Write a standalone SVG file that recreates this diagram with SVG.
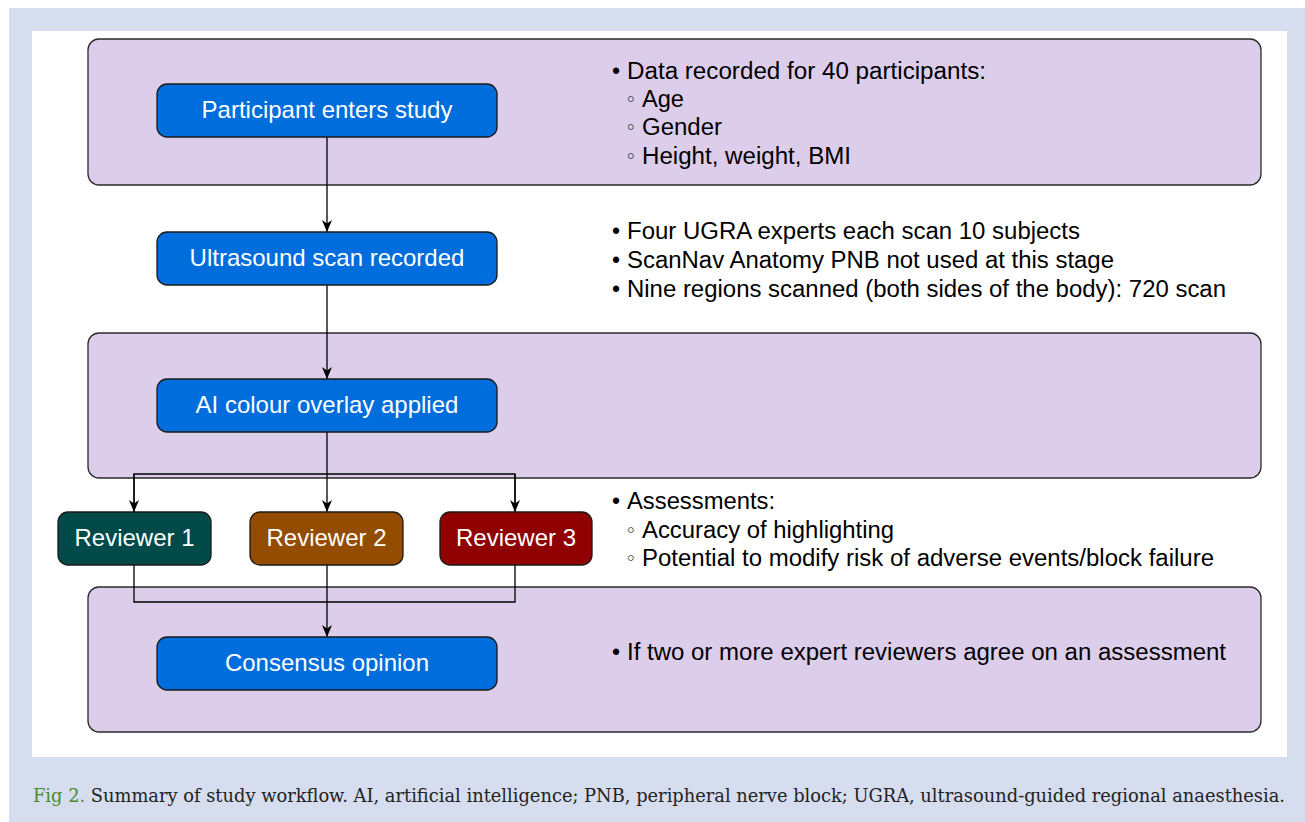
<svg xmlns="http://www.w3.org/2000/svg" width="1305" height="822" viewBox="0 0 1305 822">
<style>
.panel{fill:#dccdea;stroke:#2a2a2a;stroke-width:1.3}
.node{stroke:#1a1a1a;stroke-width:1.3}
.blue{fill:#006ddc}
.ntext{font-family:"Liberation Sans",Arial,sans-serif;font-size:24px;fill:#ffffff;text-anchor:middle}
.btext{font-family:"Liberation Sans",Arial,sans-serif;font-size:23px;fill:#000000}
.sub{font-family:"DejaVu Sans","Liberation Sans",sans-serif;font-size:19px;fill:#000000}
.conn{fill:none;stroke:#000000;stroke-width:1.3}
.cap{font-family:"DejaVu Serif","Liberation Serif",serif;font-size:18px;fill:#222222}
</style>
<defs>
<marker id="arr" viewBox="0 0 12 10" refX="12" refY="5" markerWidth="12" markerHeight="10" markerUnits="userSpaceOnUse" orient="auto">
<path d="M0,0 L12,5 L0,10 L3.5,5 Z" fill="#000000"/>
</marker>
</defs>
<rect x="9" y="8" width="1296" height="814" fill="#d5ddef"/>
<rect x="32" y="31" width="1255" height="726" fill="#ffffff"/>

<g id="panels">
<rect class="panel" x="88" y="39" width="1173" height="146" rx="11"/>
<rect class="panel" x="88" y="333" width="1173" height="145" rx="11"/>
<rect class="panel" x="88" y="587" width="1173" height="145" rx="11"/>
</g>

<g id="connectors">
<path class="conn" d="M327,137 V232" marker-end="url(#arr)"/>
<path class="conn" d="M327,285 V379" marker-end="url(#arr)"/>
<path class="conn" d="M327,432 V512" marker-end="url(#arr)"/>
<path class="conn" d="M134,512 V474 H515 V512" />
<path class="conn" d="M134,474 V512" marker-end="url(#arr)"/>
<path class="conn" d="M515,474 V512" marker-end="url(#arr)"/>
<path class="conn" d="M134,565 V602 H515 V565"/>
<path class="conn" d="M327,565 V637" marker-end="url(#arr)"/>
</g>

<g id="participant">
<rect class="node blue" x="157" y="84" width="340" height="53" rx="10"/>
<text class="ntext" x="327" y="118">Participant enters study</text>
</g>
<g id="ultrasound">
<rect class="node blue" x="157" y="232" width="340" height="53" rx="10"/>
<text class="ntext" x="327" y="266">Ultrasound scan recorded</text>
</g>
<g id="overlay">
<rect class="node blue" x="157" y="379" width="340" height="53" rx="10"/>
<text class="ntext" x="327" y="413">AI colour overlay applied</text>
</g>
<g id="reviewer1">
<rect class="node" fill="#004a4a" x="58" y="512" width="153" height="53" rx="10"/>
<text class="ntext" x="134.5" y="546">Reviewer 1</text>
</g>
<g id="reviewer2">
<rect class="node" fill="#944c00" x="250" y="512" width="153" height="53" rx="10"/>
<text class="ntext" x="326.5" y="546">Reviewer 2</text>
</g>
<g id="reviewer3">
<rect class="node" fill="#900000" x="440" y="512" width="152" height="53" rx="10"/>
<text class="ntext" x="516" y="546">Reviewer 3</text>
</g>
<g id="consensus">
<rect class="node blue" x="157" y="637" width="340" height="53" rx="10"/>
<text class="ntext" x="327" y="671">Consensus opinion</text>
</g>

<g id="notes1">
<text class="btext" x="612" y="79">•</text>
<text class="btext" x="627" y="79" textLength="359" lengthAdjust="spacingAndGlyphs">Data recorded for 40 participants:</text>
<text class="sub" x="625" y="106">◦</text>
<text class="btext" x="642" y="107" textLength="42" lengthAdjust="spacingAndGlyphs">Age</text>
<text class="sub" x="625" y="134">◦</text>
<text class="btext" x="642" y="135" textLength="80" lengthAdjust="spacingAndGlyphs">Gender</text>
<text class="sub" x="625" y="163">◦</text>
<text class="btext" x="642" y="164" textLength="209" lengthAdjust="spacingAndGlyphs">Height, weight, BMI</text>
</g>
<g id="notes2">
<text class="btext" x="612" y="239">•</text>
<text class="btext" x="627" y="239" textLength="453" lengthAdjust="spacingAndGlyphs">Four UGRA experts each scan 10 subjects</text>
<text class="btext" x="612" y="268">•</text>
<text class="btext" x="627" y="268" textLength="487" lengthAdjust="spacingAndGlyphs">ScanNav Anatomy PNB not used at this stage</text>
<text class="btext" x="612" y="297">•</text>
<text class="btext" x="627" y="297" textLength="599" lengthAdjust="spacingAndGlyphs">Nine regions scanned (both sides of the body): 720 scan</text>
</g>
<g id="notes3">
<text class="btext" x="612" y="509">•</text>
<text class="btext" x="627" y="509" textLength="148" lengthAdjust="spacingAndGlyphs">Assessments:</text>
<text class="sub" x="625" y="537">◦</text>
<text class="btext" x="642" y="538" textLength="252" lengthAdjust="spacingAndGlyphs">Accuracy of highlighting</text>
<text class="sub" x="625" y="565">◦</text>
<text class="btext" x="642" y="566" textLength="572" lengthAdjust="spacingAndGlyphs">Potential to modify risk of adverse events/block failure</text>
</g>
<g id="notes4">
<text class="btext" x="612" y="660">•</text>
<text class="btext" x="627" y="660" textLength="599" lengthAdjust="spacingAndGlyphs">If two or more expert reviewers agree on an assessment</text>
</g>

<text class="cap" x="33" y="802" textLength="1252" lengthAdjust="spacingAndGlyphs"><tspan fill="#4a8a2e">Fig 2.</tspan> Summary of study workflow. AI, artificial intelligence; PNB, peripheral nerve block; UGRA, ultrasound-guided regional anaesthesia.</text>
</svg>
